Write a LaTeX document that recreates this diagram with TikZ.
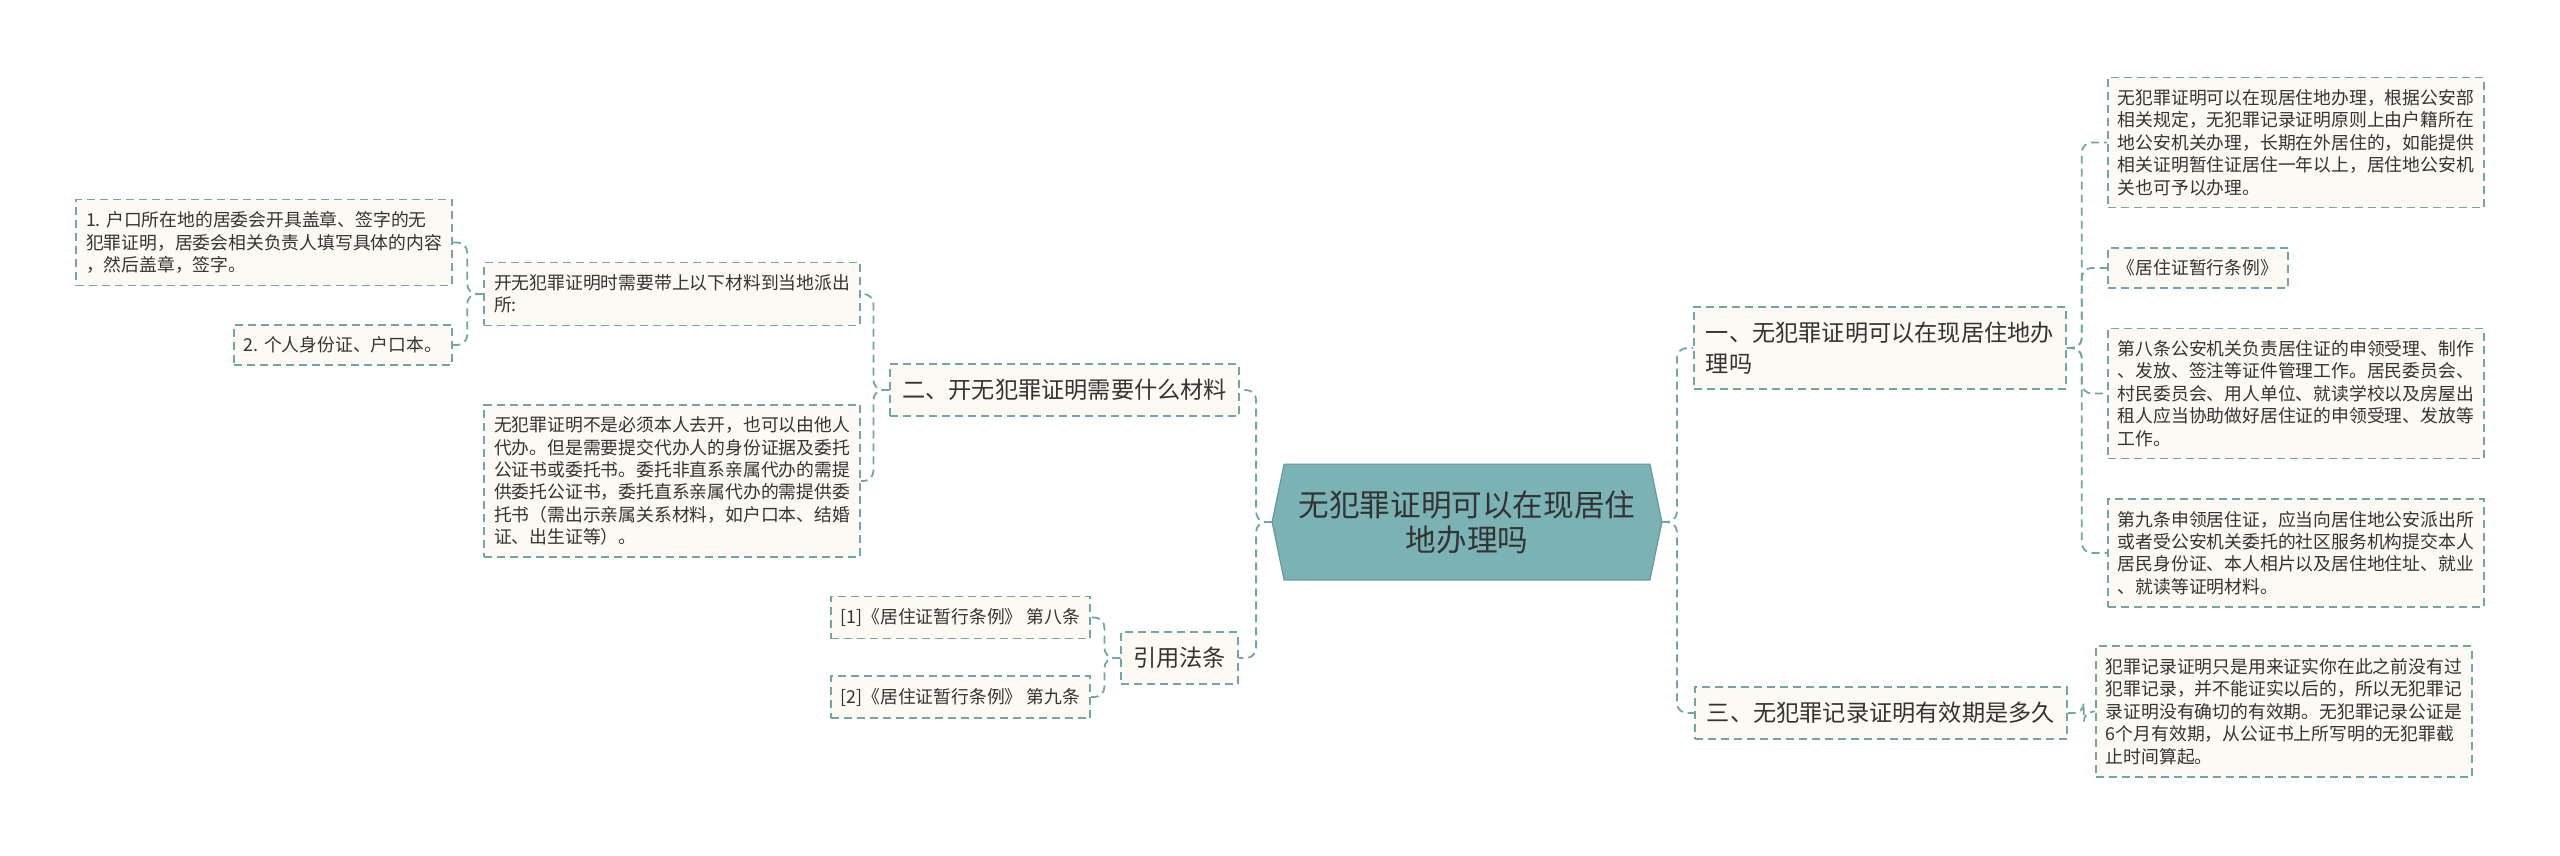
\documentclass[tikz,border=0pt]{standalone}
\usepackage{fontspec}
\setmainfont{Noto Sans CJK SC}
\usetikzlibrary{calc,backgrounds}
\definecolor{lineteal}{RGB}{112,166,164}
\definecolor{rootfill}{RGB}{123,179,181}
\definecolor{boxfill}{RGB}{252,250,242}
\definecolor{ink}{RGB}{51,51,51}
\tikzset{
  leaf/.style={draw=lineteal, fill=boxfill, dash pattern=on 4pt off 2.5pt, line width=0.9pt,
    align=left, inner xsep=5pt, inner ysep=6pt, text=ink, font=\fontsize{8.9}{11.2}\selectfont},
  branch/.style={leaf, inner xsep=6pt, inner ysep=7.5pt, font=\fontsize{11.6}{15.5}\selectfont},
  link/.style={draw=lineteal, dash pattern=on 4pt off 2.5pt, line width=0.9pt, rounded corners=5pt},
}
\begin{document}
\begin{tikzpicture}[x=0.5pt,y=-0.5pt]
\useasboundingbox (0,0) rectangle (2560,856);
% centre
\node[minimum width=182.5pt, minimum height=57.5pt, align=center, text=ink,
  font=\fontsize{15.3}{17.5}\selectfont] (root) at (1467,522) {无犯罪证明可以在现居住\\地办理吗};
\coordinate (rootL) at ($(root.west)+(-12,0)$);
\coordinate (rootR) at ($(root.east)+(12,0)$);
\begin{scope}[on background layer]
  \filldraw[fill=rootfill, draw=rootfill!85!black, line width=0.6pt] (rootL) -- (root.north west)
    -- (root.north east) -- (rootR) -- (root.south east) -- (root.south west) -- cycle;
\end{scope}
% left side
\node[branch, anchor=east] (b2) at (1240,390) {二、开无犯罪证明需要什么材料};
\node[branch, anchor=east] (law) at (1239,658) {引用法条};
\node[leaf, anchor=east] (l3) at (861,294) {开无犯罪证明时需要带上以下材料到当地派出\\所:};
\node[leaf, anchor=east] (l4) at (861,481) {无犯罪证明不是必须本人去开，也可以由他人\\代办。但是需要提交代办人的身份证据及委托\\公证书或委托书。委托非直系亲属代办的需提\\供委托公证书，委托直系亲属代办的需提供委\\托书（需出示亲属关系材料，如户口本、结婚\\证、出生证等）。};
\node[leaf, anchor=east] (l1) at (453,242.5) {1. 户口所在地的居委会开具盖章、签字的无\\犯罪证明，居委会相关负责人填写具体的内容\\，然后盖章，签字。};
\node[leaf, anchor=east] (l2) at (453,345) {2. 个人身份证、户口本。};
\node[leaf, anchor=east] (c1) at (1091,617.5) {[1]《居住证暂行条例》 第八条};
\node[leaf, anchor=east] (c2) at (1091,697) {[2]《居住证暂行条例》 第九条};
% right side
\node[branch, anchor=west] (b1) at (1693,348) {一、无犯罪证明可以在现居住地办\\理吗};
\node[branch, anchor=west] (b3) at (1694,713) {三、无犯罪记录证明有效期是多久};
\node[leaf, anchor=west] (r1) at (2107,142.5) {无犯罪证明可以在现居住地办理，根据公安部\\相关规定，无犯罪记录证明原则上由户籍所在\\地公安机关办理，长期在外居住的，如能提供\\相关证明暂住证居住一年以上，居住地公安机\\关也可予以办理。};
\node[leaf, anchor=west] (r2) at (2107,268) {《居住证暂行条例》};
\node[leaf, anchor=west] (r3) at (2107,393.5) {第八条公安机关负责居住证的申领受理、制作\\、发放、签注等证件管理工作。居民委员会、\\村民委员会、用人单位、就读学校以及房屋出\\租人应当协助做好居住证的申领受理、发放等\\工作。};
\node[leaf, anchor=west] (r4) at (2107,553) {第九条申领居住证，应当向居住地公安派出所\\或者受公安机关委托的社区服务机构提交本人\\居民身份证、本人相片以及居住地住址、就业\\、就读等证明材料。};
\node[leaf, anchor=west] (r5) at (2095,711.5) {犯罪记录证明只是用来证实你在此之前没有过\\犯罪记录，并不能证实以后的，所以无犯罪记\\录证明没有确切的有效期。无犯罪记录公证是\\6个月有效期，从公证书上所写明的无犯罪截\\止时间算起。};
% connectors
\draw[link] (rootL) -- ++(-16,0) |- (b2.east);
\draw[link] (rootL) -- ++(-16,0) |- (law.east);
\draw[link] (rootR) -- ++(15,0) |- (b1.west);
\draw[link] (rootR) -- ++(15,0) |- (b3.west);
\draw[link] (b2.west) -- ++(-16,0) |- (l3.east);
\draw[link] (b2.west) -- ++(-16,0) |- (l4.east);
\draw[link] (l3.west) -- ++(-16,0) |- (l1.east);
\draw[link] (l3.west) -- ++(-16,0) |- (l2.east);
\draw[link] (law.west) -- ++(-16,0) |- (c1.east);
\draw[link] (law.west) -- ++(-16,0) |- (c2.east);
\foreach \n in {r1,r2,r3,r4}
  \draw[link] (b1.east) -- ++(15,0) |- (\n.west);
\draw[link] (b3.east) -- ++(16,0) |- (r5.west);
\end{tikzpicture}
\end{document}
